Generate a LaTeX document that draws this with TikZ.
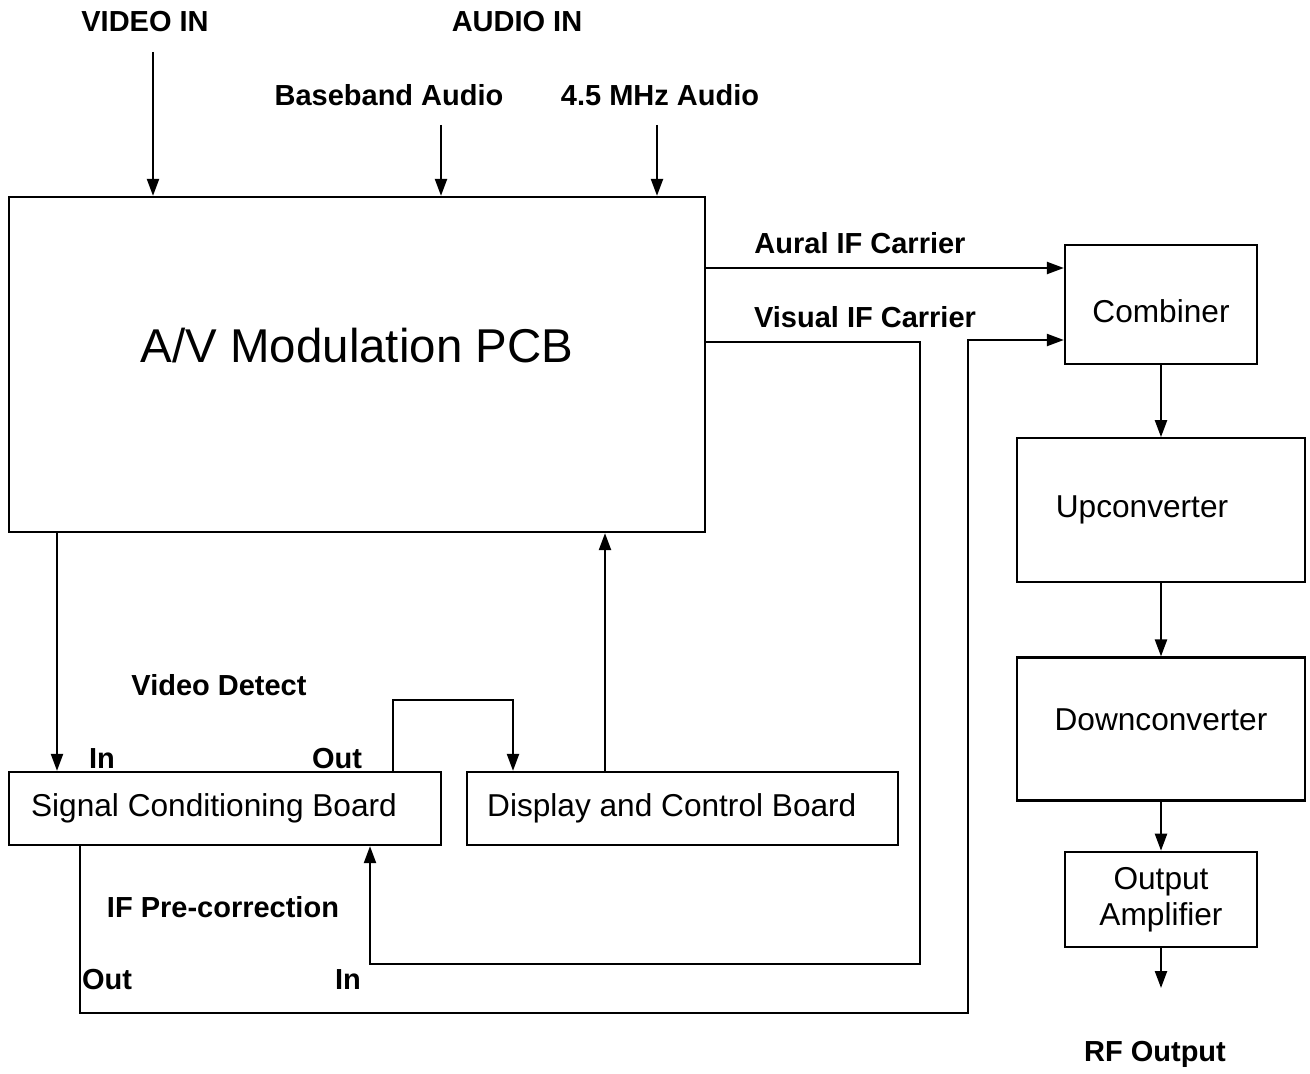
\documentclass[tikz,border=0pt]{standalone}
\usepackage{fontspec}
\setmainfont{Liberation Sans}
\usepackage{tikz}
\usetikzlibrary{arrows.meta, positioning}

\begin{document}
\begin{tikzpicture}[
  block/.style={rectangle, draw, line width=1.3pt, inner sep=0pt, align=center, font=\fontsize{18}{20.5}\selectfont},
  lbl/.style={font=\bfseries\fontsize{16.5}{20}\selectfont, inner sep=0pt},
  arrow/.style={-{Triangle[length=0.34cm, width=0.24cm]}, line width=1.3pt},
]
  \useasboundingbox (0,0) rectangle (26.2,-21.48);

  % main boards
  \node[block, minimum width=13.92cm, minimum height=6.7cm, font=\fontsize{27}{30}\selectfont] (pcb) at (7.14,-7.29) {\raisebox{0.76cm}{A/V Modulation PCB}};
  \node[block, minimum width=8.64cm, minimum height=1.46cm] (scb) at (4.5,-16.17) {Signal Conditioning Board\hspace*{0.44cm}};
  \node[block, minimum width=8.62cm, minimum height=1.46cm, right=0.48cm of scb] (dcb) {Display and Control Board\hspace*{0.44cm}};

  % RF chain
  \node[block, minimum width=3.84cm, minimum height=2.38cm] (comb) at (23.22,-6.09) {\raisebox{-0.14cm}[\height][0pt]{Combiner}};
  \node[block, minimum width=5.76cm, minimum height=2.88cm, below=1.44cm of comb] (upc) {Upconverter\hspace*{0.76cm}};
  \node[block, minimum width=5.76cm, minimum height=2.86cm, below=1.46cm of upc] (dnc) {\raisebox{0.36cm}{Downconverter}};
  \node[block, minimum width=3.84cm, minimum height=1.9cm, below=0.98cm of dnc] (amp) {Output\\Amplifier};
  \coordinate (rfout) at (23.22,-19.76);

  % inputs
  \coordinate (vin) at (3.06,-1.04);
  \coordinate (bbin) at (8.82,-2.5);
  \coordinate (fmin) at (13.14,-2.5);
  \node[lbl] (vinlbl) at (2.9,-0.44) {VIDEO IN};
  \node[lbl] (ainlbl) at (10.34,-0.44) {AUDIO IN};
  \node[lbl] (bblbl) at (7.78,-1.9) {Baseband Audio};
  \node[lbl] (fmlbl) at (13.2,-1.9) {4.5 MHz Audio};

  \draw[arrow] (vin) -- (vin |- pcb.north);
  \draw[arrow] (bbin) -- (bbin |- pcb.north);
  \draw[arrow] (fmin) -- (fmin |- pcb.north);

  % IF carriers
  \node[lbl] (aurlbl) at (17.2,-4.86) {Aural IF Carrier};
  \node[lbl] (vislbl) at (17.3,-6.34) {Visual IF Carrier};
  \draw[arrow] (pcb.east |- 0,-5.36) -- (comb.west |- 0,-5.36);
  \draw[arrow] (pcb.east |- 0,-6.84) -| (18.4,-19.28) -| (scb.south -| 7.4,0);
  \draw[arrow] (scb.south -| 1.6,0) |- (19.36,-20.26) |- (comb.west |- 0,-6.8);

  % board links
  \draw[arrow] (pcb.south -| 1.14,0) -- (scb.north -| 1.14,0);
  \draw[arrow] (dcb.north -| 12.1,0) -- (pcb.south -| 12.1,0);
  \draw[arrow] (scb.north -| 7.86,0) |- (10.26,-14.0) -- (dcb.north -| 10.26,0);

  \node[lbl] (vdlbl) at (4.38,-13.7) {Video Detect};
  \node[lbl] (inlbl) at (2.04,-15.18) {In};
  \node[lbl] (outlbl) at (6.74,-15.18) {Out};
  \node[lbl] (iflbl) at (4.46,-18.14) {IF Pre-correction};
  \node[lbl] (ifout) at (2.14,-19.6) {Out};
  \node[lbl] (ifin) at (6.96,-19.6) {In};

  % chain arrows
  \draw[arrow] (comb) -- (upc);
  \draw[arrow] (upc) -- (dnc);
  \draw[arrow] (dnc) -- (amp);
  \draw[arrow] (amp) -- (rfout);
  \node[lbl] (rflbl) at (23.1,-21.08) {RF Output};
\end{tikzpicture}
\end{document}
